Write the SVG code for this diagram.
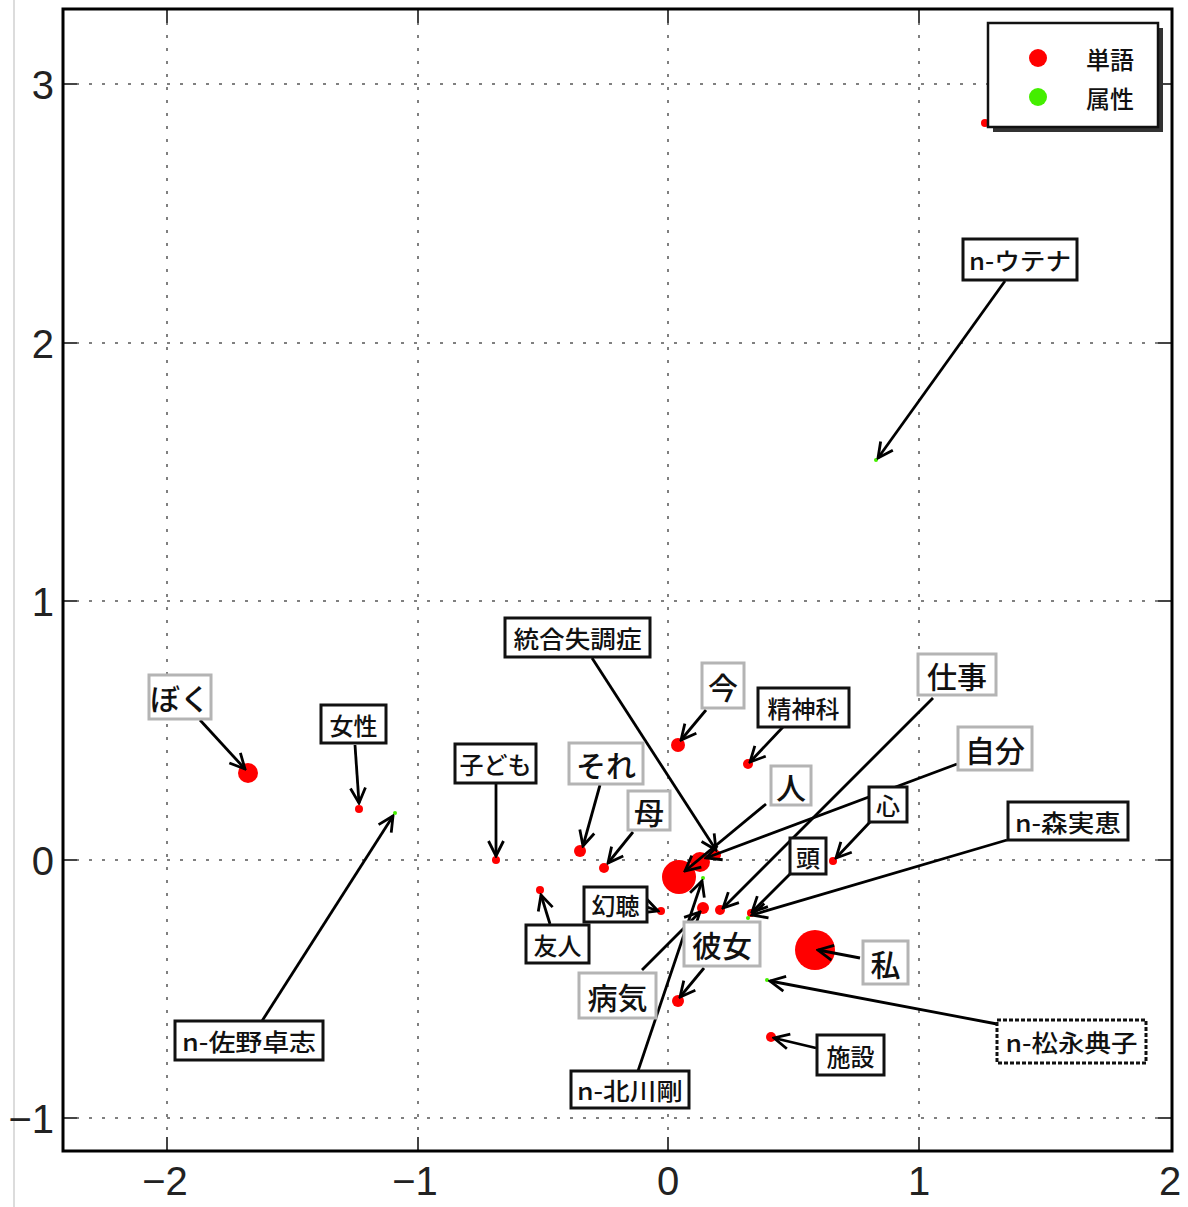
<svg xmlns="http://www.w3.org/2000/svg" width="1188" height="1207" viewBox="0 0 1188 1207">
<defs>
<style>
.grid{stroke:#808080;stroke-width:2;stroke-dasharray:3 10;fill:none}
.tick{stroke:#444;stroke-width:2}
.ax{font-family:"Liberation Sans",Arial,sans-serif;font-size:40px;fill:#222}
.r{fill:#ff0000}
.g{fill:#44ee00}
.con line{stroke:#000;stroke-width:2.8;marker-end:url(#ah)}
.gb{fill:#fff;stroke:#b4b4b4;stroke-width:3}
.bb{fill:#fff;stroke:#111;stroke-width:3}
.db{fill:#fff;stroke:#111;stroke-width:3;stroke-dasharray:4 2}
.gt{font-family:"Noto Sans CJK JP","Noto Sans CJK SC",sans-serif;font-size:30px;font-weight:500;fill:#111;text-anchor:middle;dominant-baseline:central}
.bt{font-family:"Noto Sans CJK JP","Noto Sans CJK SC",sans-serif;font-size:24px;font-weight:500;fill:#111;text-anchor:middle;dominant-baseline:central}
</style>
<marker id="ah" viewBox="-18 -10 20 20" markerWidth="20" markerHeight="20" refX="0" refY="0" orient="auto" markerUnits="userSpaceOnUse">
<path d="M-15 -7.5 L0 0 L-15 7.5" fill="none" stroke="#000" stroke-width="2.8"/>
</marker>
</defs>
<rect width="1188" height="1207" fill="#fff"/>
<line x1="14" y1="0" x2="14" y2="1207" stroke="#dcdcdc" stroke-width="2"/>
<g id="grid">
<line class="grid" x1="167" y1="9" x2="167" y2="1151"/>
<line class="grid" x1="418" y1="9" x2="418" y2="1151"/>
<line class="grid" x1="668" y1="9" x2="668" y2="1151"/>
<line class="grid" x1="919" y1="9" x2="919" y2="1151"/>
<line class="grid" x1="63" y1="84" x2="1172" y2="84"/>
<line class="grid" x1="63" y1="343" x2="1172" y2="343"/>
<line class="grid" x1="63" y1="601" x2="1172" y2="601"/>
<line class="grid" x1="63" y1="860" x2="1172" y2="860"/>
<line class="grid" x1="63" y1="1118" x2="1172" y2="1118"/>
</g>
<g id="ticks">
<path class="tick" d="M167 9v14M418 9v14M668 9v14M919 9v14M167 1151v-14M418 1151v-14M668 1151v-14M919 1151v-14M63 84h14M63 343h14M63 601h14M63 860h14M63 1118h14M1172 84h-14M1172 343h-14M1172 601h-14M1172 860h-14M1172 1118h-14"/>
</g>
<g id="axis-labels" class="ax">
<text x="54" y="99" text-anchor="end">3</text>
<text x="54" y="358" text-anchor="end">2</text>
<text x="54" y="616" text-anchor="end">1</text>
<text x="54" y="875" text-anchor="end">0</text>
<text x="54" y="1133" text-anchor="end">−1</text>
<text x="165" y="1195" text-anchor="middle">−2</text>
<text x="415" y="1195" text-anchor="middle">−1</text>
<text x="668" y="1195" text-anchor="middle">0</text>
<text x="919" y="1195" text-anchor="middle">1</text>
<text x="1170" y="1195" text-anchor="middle">2</text>
</g>
<g id="points">
<circle class="r" cx="985" cy="123" r="4"/>
<circle class="r" cx="248" cy="773" r="10"/>
<circle class="r" cx="359" cy="809" r="4"/>
<circle class="r" cx="496" cy="860" r="4"/>
<circle class="r" cx="580" cy="851" r="6"/>
<circle class="r" cx="604" cy="868" r="5"/>
<circle class="r" cx="678" cy="745" r="7"/>
<circle class="r" cx="748" cy="764" r="5"/>
<circle class="r" cx="833" cy="861" r="4"/>
<circle class="r" cx="540" cy="890" r="4"/>
<circle class="r" cx="661" cy="911" r="4"/>
<circle class="r" cx="716" cy="855" r="5"/>
<circle class="r" cx="700" cy="862" r="10"/>
<circle class="r" cx="679" cy="877" r="17"/>
<circle class="r" cx="703" cy="908" r="6"/>
<circle class="r" cx="720" cy="910" r="5"/>
<circle class="r" cx="751" cy="913" r="4"/>
<circle class="r" cx="678" cy="1001" r="6"/>
<circle class="r" cx="815" cy="950" r="20"/>
<circle class="r" cx="771" cy="1037" r="5"/>
<circle class="g" cx="395" cy="813" r="2"/>
<circle class="g" cx="703" cy="878" r="2"/>
<circle class="g" cx="748" cy="918" r="2"/>
<circle class="g" cx="767" cy="980" r="2"/>
<circle class="g" cx="876" cy="460" r="2"/>
</g>
<g id="connectors" class="con">
<line x1="200" y1="720" x2="245" y2="769"/>
<line x1="355" y1="745" x2="359" y2="803"/>
<line x1="262" y1="1021" x2="393" y2="816"/>
<line x1="496" y1="784" x2="496" y2="856"/>
<line x1="600" y1="785" x2="583" y2="846"/>
<line x1="633" y1="832" x2="608" y2="863"/>
<line x1="706" y1="710" x2="681" y2="740"/>
<line x1="592" y1="658" x2="716" y2="850"/>
<line x1="783" y1="727" x2="750" y2="762"/>
<line x1="766" y1="804" x2="685" y2="871"/>
<line x1="933" y1="698" x2="723" y2="908"/>
<line x1="957" y1="764" x2="706" y2="858"/>
<line x1="870" y1="822" x2="836" y2="858"/>
<line x1="790" y1="874" x2="752" y2="912"/>
<line x1="1007" y1="840" x2="752" y2="915"/>
<line x1="647" y1="907" x2="658" y2="911"/>
<line x1="550" y1="924" x2="541" y2="895"/>
<line x1="642" y1="970" x2="700" y2="912"/>
<line x1="638" y1="1071" x2="702" y2="881"/>
<line x1="704" y1="968" x2="680" y2="997"/>
<line x1="860" y1="958" x2="818" y2="950"/>
<line x1="997" y1="1024" x2="770" y2="981"/>
<line x1="816" y1="1048" x2="774" y2="1038"/>
<line x1="1005" y1="281" x2="878" y2="458"/>
</g>
<g id="n-bokusan"><rect class="gb" x="149" y="675" width="62" height="44"/><text class="gt" x="180" y="697">ぼく</text></g>
<g id="n-sore"><rect class="gb" x="569" y="743" width="74" height="41"/><text class="gt" x="606" y="763.5">それ</text></g>
<g id="n-haha"><rect class="gb" x="628" y="791" width="42" height="39"/><text class="gt" x="649" y="810.5">母</text></g>
<g id="n-ima"><rect class="gb" x="702" y="663" width="42" height="45"/><text class="gt" x="723" y="685.5">今</text></g>
<g id="n-hito"><rect class="gb" x="771" y="766" width="40" height="39"/><text class="gt" x="791" y="785.5">人</text></g>
<g id="n-shigoto"><rect class="gb" x="918" y="654" width="78" height="41"/><text class="gt" x="957" y="674.5">仕事</text></g>
<g id="n-jibun"><rect class="gb" x="958" y="727" width="74" height="43"/><text class="gt" x="995" y="748.5">自分</text></g>
<g id="n-kanojo"><rect class="gb" x="684" y="922" width="76" height="44"/><text class="gt" x="722" y="944">彼女</text></g>
<g id="n-byouki"><rect class="gb" x="579" y="973" width="77" height="45"/><text class="gt" x="617.5" y="995.5">病気</text></g>
<g id="n-watashi"><rect class="gb" x="863" y="941" width="45" height="43"/><text class="gt" x="885.5" y="962.5">私</text></g>
<g id="n-josei"><rect class="bb" x="321" y="705" width="65" height="38"/><text class="bt" x="353.5" y="724">女性</text></g>
<g id="n-kodomo"><rect class="bb" x="455" y="744" width="81" height="39"/><text class="bt" x="495.5" y="763.5">子ども</text></g>
<g id="n-tougou"><rect class="bb" x="505" y="618" width="145" height="39"/><text class="bt" x="577.5" y="637.5" textLength="128" lengthAdjust="spacingAndGlyphs">統合失調症</text></g>
<g id="n-seishinka"><rect class="bb" x="758" y="688" width="91" height="39"/><text class="bt" x="803.5" y="707.5">精神科</text></g>
<g id="n-kokoro"><rect class="bb" x="869" y="787" width="38" height="35"/><text class="bt" x="888" y="804.5">心</text></g>
<g id="n-atama"><rect class="bb" x="790" y="838" width="36" height="36"/><text class="bt" x="808" y="856">頭</text></g>
<g id="n-mori"><rect class="bb" x="1008" y="802" width="120" height="38"/><text class="bt" x="1068" y="821" textLength="106" lengthAdjust="spacingAndGlyphs">n-森実恵</text></g>
<g id="n-genchou"><rect class="bb" x="584" y="887" width="63" height="35"/><text class="bt" x="615.5" y="904.5">幻聴</text></g>
<g id="n-yuujin"><rect class="bb" x="526" y="925" width="63" height="38"/><text class="bt" x="557.5" y="944">友人</text></g>
<g id="n-shisetsu"><rect class="bb" x="817" y="1035" width="67" height="40"/><text class="bt" x="850.5" y="1055">施設</text></g>
<g id="n-matsunaga"><rect class="db" x="997" y="1020" width="149" height="43"/><text class="bt" x="1071.5" y="1041.5" textLength="132" lengthAdjust="spacingAndGlyphs">n-松永典子</text></g>
<g id="n-kitagawa"><rect class="bb" x="571" y="1071" width="118" height="37"/><text class="bt" x="630" y="1089.5" textLength="106" lengthAdjust="spacingAndGlyphs">n-北川剛</text></g>
<g id="n-sano"><rect class="bb" x="175" y="1021" width="148" height="39"/><text class="bt" x="249" y="1040.5" textLength="134" lengthAdjust="spacingAndGlyphs">n-佐野卓志</text></g>
<g id="n-utena"><rect class="bb" x="963" y="239" width="114" height="41"/><text class="bt" x="1020" y="259.5" textLength="102" lengthAdjust="spacingAndGlyphs">n-ウテナ</text></g>
<g id="frame"><rect x="63" y="9" width="1109" height="1142" fill="none" stroke="#000" stroke-width="3"/></g>
<g id="legend">
<rect x="993" y="28" width="170" height="104" fill="#333"/>
<rect x="988" y="23" width="170" height="104" fill="#fff" stroke="#111" stroke-width="2.5"/>
<circle class="r" cx="1038" cy="58" r="9"/>
<circle class="g" cx="1038" cy="97" r="9"/>
<text class="bt" x="1110" y="58">単語</text>
<text class="bt" x="1110" y="97">属性</text>
</g>
</svg>
